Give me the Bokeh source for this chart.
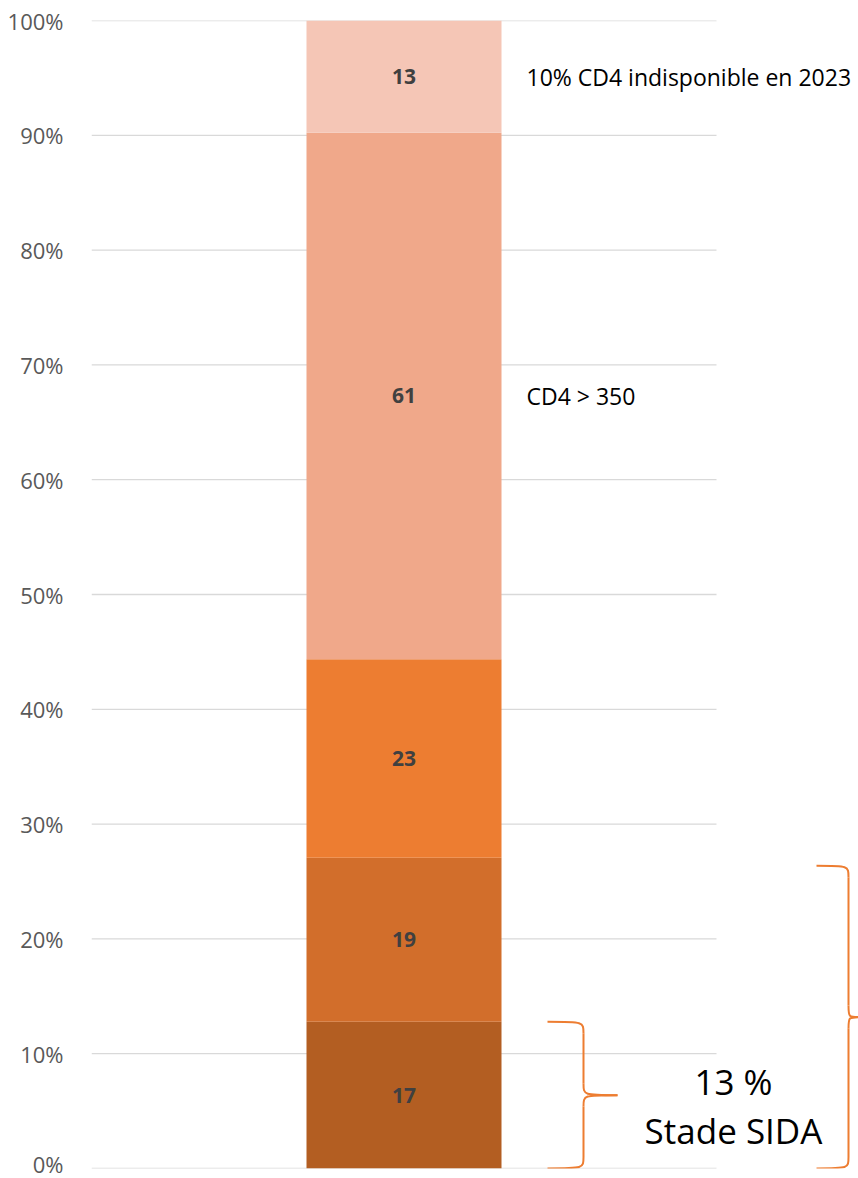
from bokeh.plotting import figure
from bokeh.models import Range1d, FixedTicker, CustomJSTickFormatter, ColumnDataSource
from bokeh.core.properties import value
from bokeh.embed import file_html
from bokeh.resources import INLINE

# ---- data ----
segments = ["<200 SIDA", "<200", "200-350", "CD4 > 350", "CD4 indisponible"]
counts = [17, 19, 23, 61, 13]
colors = ["#B35E22", "#D26E2B", "#ED7D31", "#F0A88A", "#F5C6B6"]
y_ticks = [0, 10, 20, 30, 40, 50, 60, 70, 80, 90, 100]
side_labels = {3: "CD4 > 350", 4: "10% CD4 indisponible en 2023"}
sida_text = ["13 %", "Stade SIDA"]

total = sum(counts)
pct = [c / total * 100 for c in counts]
bottoms, tops = [], []
acc = 0.0
for v in pct:
    bottoms.append(acc)
    acc += v
    tops.append(acc)

W, H = 858, 1178
p = figure(width=W, height=H, output_backend="svg", toolbar_location=None,
           x_range=Range1d(0, 767 / 625), y_range=Range1d(0, 100))
p.min_border_left = 91
p.min_border_right = 0
p.min_border_top = 20
p.min_border_bottom = 10
p.outline_line_color = None
p.xaxis.visible = False
p.xgrid.visible = False
p.ygrid.visible = False
p.background_fill_color = "white"
p.border_fill_color = "white"

# gridlines (only across the chart area)
p.segment(x0=[0] * len(y_ticks), x1=[1] * len(y_ticks), y0=y_ticks, y1=y_ticks,
          line_color="#D9D9D9", line_width=1.3)

ax = p.yaxis[0]
ax.ticker = FixedTicker(ticks=y_ticks)
ax.formatter = CustomJSTickFormatter(code="return tick.toFixed(0) + '%';")
ax.axis_line_color = None
ax.major_tick_line_color = None
ax.minor_tick_line_color = None
ax.major_label_text_font = "Open Sans"
ax.major_label_text_font_size = "22px"
ax.major_label_text_color = "#595959"
ax.major_label_standoff = 22

src = ColumnDataSource(dict(x=[0.5] * len(counts), bottom=bottoms, top=tops,
                            color=colors, lab=[str(c) for c in counts],
                            mid=[(b + t) / 2 for b, t in zip(bottoms, tops)]))
p.vbar(x="x", width=0.312, bottom="bottom", top="top", fill_color="color",
       line_color=None, source=src)
p.text(x="x", y="mid", text="lab", source=src, text_align="center",
       text_baseline="middle", text_font=value("Open Sans"),
       text_font_style="bold", text_font_size="21px", text_color="#404040")

px = lambda v: (v - 91) / 625

# side labels
for i, t in side_labels.items():
    p.text(x=[px(526)], y=[(bottoms[i] + tops[i]) / 2], text=[t],
           text_align="left", text_baseline="middle",
           text_font=value("Open Sans"), text_font_size="23px",
           text_color="#000000")

# SIDA annotation
p.text(x=[px(733)] * 2, y=[7.6, 3.3], text=sida_text,
       text_align="center", text_baseline="middle",
       text_font=value("Open Sans"), text_font_size="35px", text_color="#000000")

# curly braces
def brace(x0, x1, xt, y0, y1, r):
    ym = (y0 + y1) / 2
    kw = dict(line_color="#ED7D31", line_width=2)
    p.bezier(x0=[x0], y0=[y1], x1=[x1], y1=[y1 - r], cx0=[x1], cy0=[y1], cx1=[x1], cy1=[y1], **kw)
    p.segment(x0=[x1], y0=[y1 - r], x1=[x1], y1=[ym + r], **kw)
    p.bezier(x0=[x1], y0=[ym + r], x1=[xt], y1=[ym], cx0=[x1], cy0=[ym], cx1=[x1], cy1=[ym], **kw)
    p.bezier(x0=[xt], y0=[ym], x1=[x1], y1=[ym - r], cx0=[x1], cy0=[ym], cx1=[x1], cy1=[ym], **kw)
    p.segment(x0=[x1], y0=[ym - r], x1=[x1], y1=[y0 + r], **kw)
    p.bezier(x0=[x1], y0=[y0 + r], x1=[x0], y1=[y0], cx0=[x1], cy0=[y0], cx1=[x1], cy1=[y0], **kw)

brace(px(547), px(583), px(617), 0, tops[0], 1.0)
brace(px(816), px(848), px(860), 0, tops[1] - 0.7, 1.0)

open("out.html", "w").write(file_html(p, INLINE))
